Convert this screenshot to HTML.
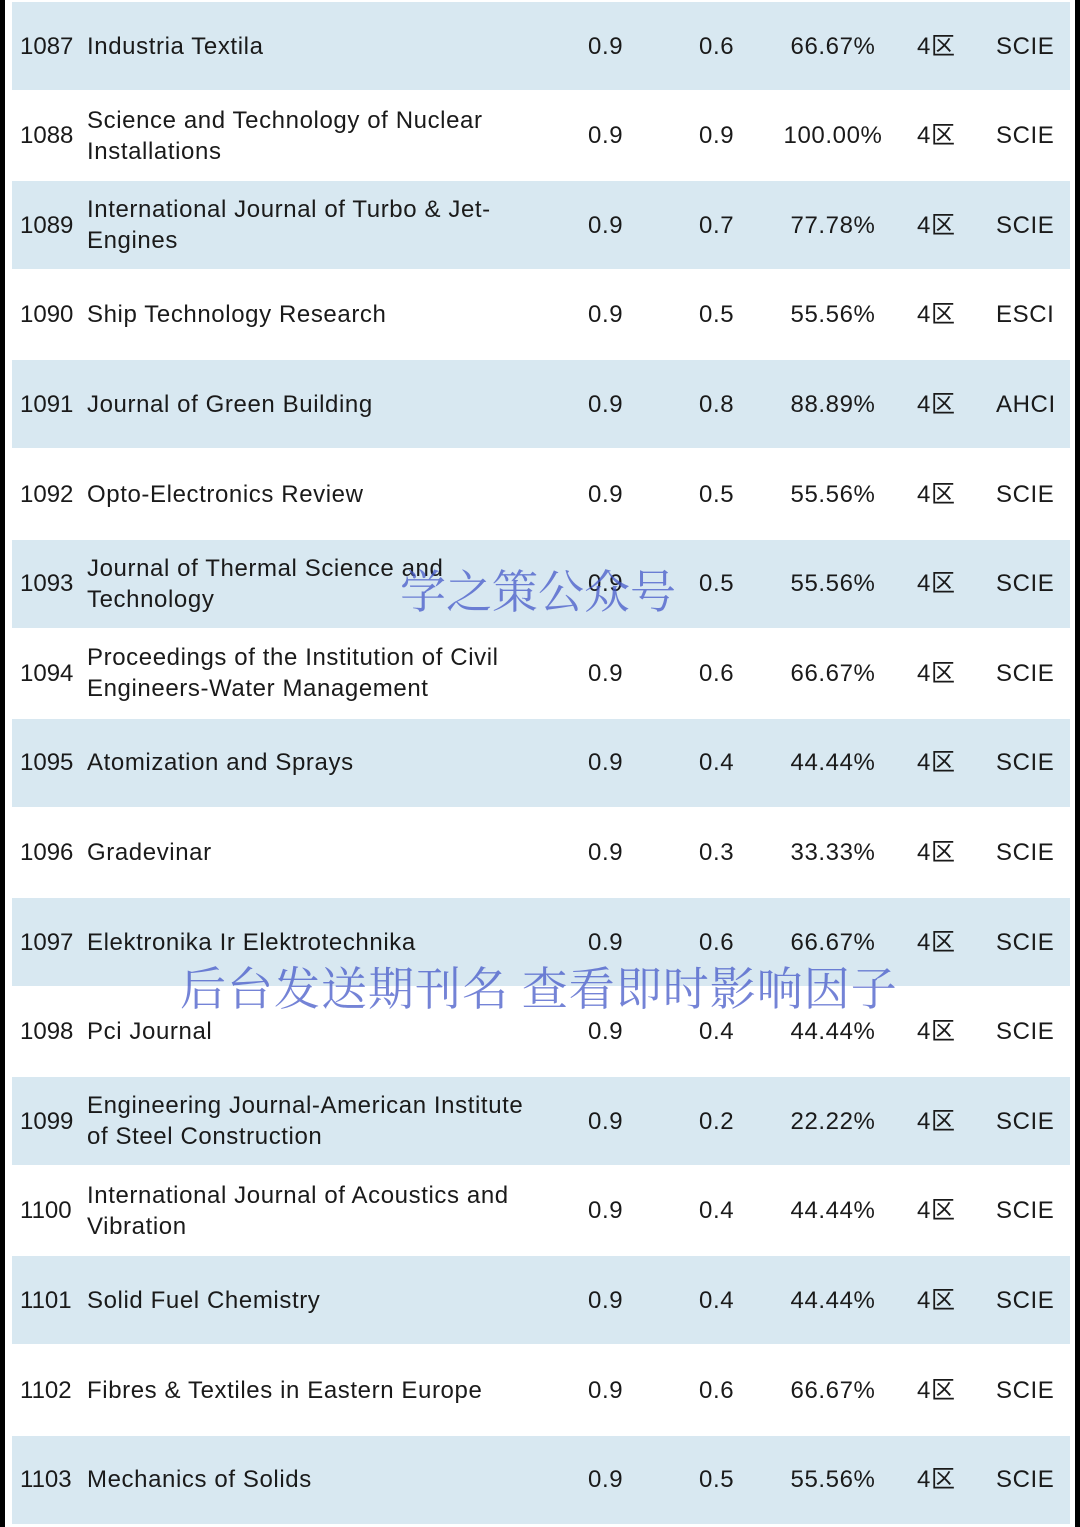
<!DOCTYPE html>
<html><head><meta charset="utf-8"><style>
body{margin:0;width:1080px;height:1527px;background:#fff;position:relative;overflow:hidden;font-family:"Liberation Sans","Noto Sans CJK SC",sans-serif;color:#1a1a1a}
.lb{position:absolute;left:0;top:0;width:5px;height:1527px;background:#000}
.rb{position:absolute;right:0;top:0;width:5px;height:1527px;background:#000}
.row{position:absolute;left:12px;width:1058px;height:88px}
.c{position:absolute;top:0;height:88px;display:flex;align-items:center;font-size:24px;line-height:31px;letter-spacing:0.6px}
.wm{position:absolute;font-family:"Noto Serif CJK SC","Noto Sans CJK SC",serif;color:rgba(70,90,200,0.75);font-size:46px;white-space:nowrap}
</style></head><body>
<div class="lb"></div>
<div class="rb"></div>
<div id="t"></div>
<div class="wm" style="left:400px;top:556px">学之策公众号</div>
<div class="wm" style="left:180px;top:953px;letter-spacing:1px">后台发送期刊名 查看即时影响因子</div>
<script>
const ids=[1087,1088,1089,1090,1091,1092,1093,1094,1095,1096,1097,1098,1099,1100,1101,1102,1103];
const names=["Industria Textila","Science and Technology of Nuclear<br>Installations","International Journal of Turbo &amp; Jet-<br>Engines","Ship Technology Research","Journal of Green Building","Opto-Electronics Review","Journal of Thermal Science and<br>Technology","Proceedings of the Institution of Civil<br>Engineers-Water Management","Atomization and Sprays","Gradevinar","Elektronika Ir Elektrotechnika","Pci Journal","Engineering Journal-American Institute<br>of Steel Construction","International Journal of Acoustics and<br>Vibration","Solid Fuel Chemistry","Fibres &amp; Textiles in Eastern Europe","Mechanics of Solids"];
const ifs=["0.9","0.9","0.9","0.9","0.9","0.9","0.9","0.9","0.9","0.9","0.9","0.9","0.9","0.9","0.9","0.9","0.9"];
const v2=["0.6","0.9","0.7","0.5","0.8","0.5","0.5","0.6","0.4","0.3","0.6","0.4","0.2","0.4","0.4","0.6","0.5"];
const pct=["66.67%","100.00%","77.78%","55.56%","88.89%","55.56%","55.56%","66.67%","44.44%","33.33%","66.67%","44.44%","22.22%","44.44%","44.44%","66.67%","55.56%"];
const idx=["SCIE","SCIE","SCIE","ESCI","AHCI","SCIE","SCIE","SCIE","SCIE","SCIE","SCIE","SCIE","SCIE","SCIE","SCIE","SCIE","SCIE"];
const t=document.getElementById('t');
ids.forEach((id,i)=>{
 const r=document.createElement('div');
 
 
 r.className='row';
 r.style.top=(2+89.6*i)+'px';
 r.style.background=i%2==0?'#d8e8f1':'#fff';
 r.innerHTML=`<div class="c" style="left:8px;letter-spacing:0">${id}</div>
<div class="c" style="left:75px"><span>${names[i]}</span></div>
<div class="c" style="left:576px">${ifs[i]}</div>
<div class="c" style="left:687px">${v2[i]}</div>
<div class="c" style="left:771px;width:100px;justify-content:center">${pct[i]}</div>
<div class="c" style="left:905px">4区</div>
<div class="c" style="left:984px">${idx[i]}</div>`;
 t.appendChild(r);
});
</script>
</body></html>
